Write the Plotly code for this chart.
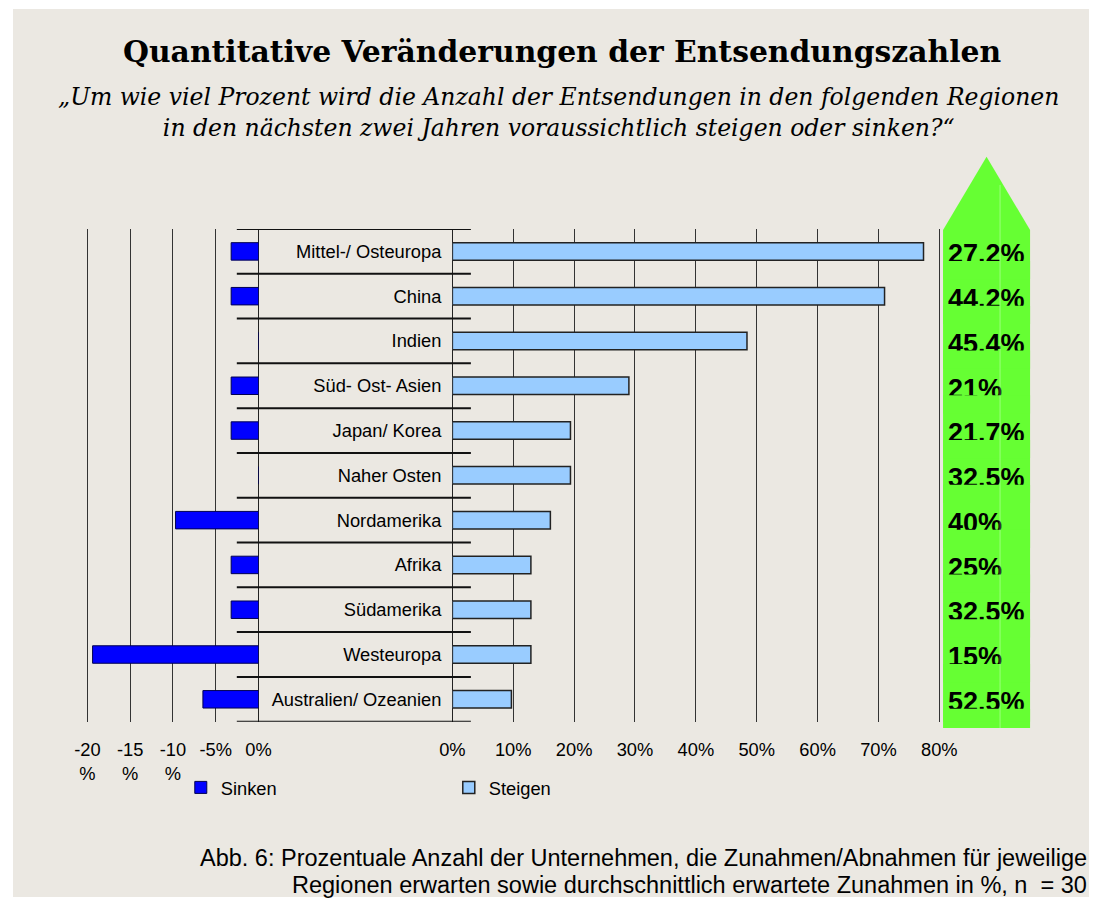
import plotly.graph_objects as go

W, H = 1106, 899

# ---------------- data ----------------
regions = ["Mittel-/ Osteuropa", "China", "Indien", "Süd- Ost- Asien", "Japan/ Korea",
           "Naher Osten", "Nordamerika", "Afrika", "Südamerika", "Westeuropa",
           "Australien/ Ozeanien"]
sinken = [-3.2, -3.2, 0.0, -3.2, -3.2, 0.0, -9.7, -3.2, -3.2, -19.4, -6.5]
steigen = [77.4, 71.0, 48.4, 29.0, 19.4, 19.4, 16.1, 12.9, 12.9, 12.9, 9.7]
avg_increase = ["27.2%", "44.2%", "45.4%", "21%", "21.7%", "32.5%", "40%",
                "25%", "32.5%", "15%", "52.5%"]

left_tickvals = [-20, -15, -10, -5, 0]
left_ticktext = ["-20<br>%", "-15<br>%", "-10<br>%", "-5%", "0%"]
right_tickvals = [0, 10, 20, 30, 40, 50, 60, 70, 80]
right_ticktext = ["0%", "10%", "20%", "30%", "40%", "50%", "60%", "70%", "80%"]

title = "Quantitative Veränderungen der Entsendungszahlen"
subtitle = ("„Um wie viel Prozent wird die Anzahl der Entsendungen in den folgenden Regionen<br>"
            "in den nächsten zwei Jahren voraussichtlich steigen oder sinken?“")
caption_lines = ["Abb. 6: Prozentuale Anzahl der Unternehmen, die Zunahmen/Abnahmen für jeweilige",
                 "Regionen erwarten sowie durchschnittlich erwartete Zunahmen in %, n  = 30"]

# ---------------- helpers ----------------
# horizontal calibration of the rendered page (picture x = OFF + SC * layout x)
OFF, SC = 12.27, 0.97255


def px(t):
    """target picture x (pixels) -> paper fraction"""
    return ((t - OFF) / SC) / W


def py(y):
    return 1 - y / H


PLOT_TOP, PLOT_BOT = 229.0, 721.7
n = len(regions)
row_px = (PLOT_BOT - PLOT_TOP) / n
idx = list(range(n))

SANS = "Liberation Sans, Arial, sans-serif"
SERIF = "DejaVu Serif, Georgia, serif"
BG = "#ebe8e2"
GREEN = "#66ff33"

# axis pixel anchors (picture coordinates)
L_M20, L_0 = 86.7, 257.7
R_0, R_80 = 451.5, 938.3
l_scale = (L_0 - L_M20) / 20.0
r_scale = (R_80 - R_0) / 80.0
PAD = 0.2

fig = go.Figure()

fig.add_trace(go.Bar(
    y=idx, x=sinken, orientation="h", name="Sinken",
    xaxis="x", yaxis="y", width=0.39,
    marker=dict(color="#0000ff", line=dict(color="#000050", width=1)),
))
fig.add_trace(go.Bar(
    y=idx, x=steigen, orientation="h", name="Steigen",
    xaxis="x2", yaxis="y", width=0.39,
    marker=dict(color="#99ccff", line=dict(color="#222222", width=1.5)),
))
label_shift = 5.0 / row_px
fig.add_trace(go.Scatter(
    x=[0] * n, y=[i + label_shift for i in idx], text=avg_increase,
    mode="text", textposition="middle right",
    textfont=dict(family=SANS, size=27, color="black", weight="bold"),
    xaxis="x3", yaxis="y", showlegend=False, hoverinfo="skip", cliponaxis=True,
))

shapes = []
# page background
shapes.append(dict(type="rect", xref="paper", yref="paper", x0=0, x1=1,
                   y0=py(897), y1=py(9), fillcolor=BG, line=dict(width=0), layer="below"))
# green arrow
ax0, ax1, atip = 942, 1029, 985.5
path = (f"M {px(ax0)},{py(728)} L {px(ax0)},{py(230)} L {px(atip)},{py(156.7)} "
        f"L {px(ax1)},{py(230)} L {px(ax1)},{py(728)} Z")
shapes.append(dict(type="path", xref="paper", yref="paper", path=path,
                   fillcolor=GREEN, line=dict(width=0), layer="below"))
# strips clipping the lower part of the arrow labels
for i in idx:
    shapes.append(dict(type="rect", xref="paper", yref="y", x0=px(ax0), x1=px(ax1),
                       y0=i + 9.5 / row_px, y1=min(i + 0.62, n - 0.5 + 6 / row_px),
                       fillcolor=GREEN, line=dict(width=0), layer="above"))
shapes.append(dict(type="line", xref="paper", yref="paper", x0=px(999), x1=px(999),
                   y0=py(728), y1=py(185), line=dict(color="rgba(255,255,255,0.35)", width=1),
                   layer="above"))
# category separator lines
for i in range(n + 1):
    shapes.append(dict(type="line", xref="paper", yref="y", x0=px(236), x1=px(470),
                       y0=i - 0.5, y1=i - 0.5, line=dict(color="#111111", width=2)))

annotations = [
    dict(text=f"<b>{title}</b>", x=px(561), y=py(52), xref="paper", yref="paper",
         showarrow=False, xanchor="center", yanchor="middle",
         font=dict(family=SERIF, size=29.8, color="black")),
    dict(text=f"<i>{subtitle}</i>", x=px(558), y=py(113), xref="paper", yref="paper",
         showarrow=False, xanchor="center", yanchor="middle", align="center",
         font=dict(family=SERIF, size=23.5, color="black")),
]
for k, line in enumerate(caption_lines):
    annotations.append(dict(text=line, x=px(1088), y=py(857.5 + 27 * k), xref="paper",
                            yref="paper", showarrow=False, xanchor="right",
                            yanchor="middle", font=dict(family=SANS, size=23.5, color="black")))

grid = dict(showgrid=True, gridcolor="#333333", gridwidth=1, zeroline=True,
            zerolinecolor="#222222", zerolinewidth=1, showline=False, ticks="",
            tickfont=dict(family=SANS, size=18.3, color="black"), ticklabelstandoff=15,
            fixedrange=True)

fig.update_layout(
    width=W, height=H, autosize=False,
    margin=dict(l=0, r=0, t=0, b=0, pad=0),
    paper_bgcolor="white", plot_bgcolor="rgba(0,0,0,0)",
    barmode="overlay", showlegend=True,
    xaxis=dict(domain=[px(L_M20 - PAD * l_scale), px(L_0)], range=[-20 - PAD, 0],
               anchor="y", tickvals=left_tickvals, ticktext=left_ticktext, **grid),
    xaxis2=dict(domain=[px(R_0), px(R_80 + PAD * r_scale)], range=[0, 80 + PAD],
                anchor="y", tickvals=right_tickvals, ticktext=right_ticktext, **grid),
    xaxis3=dict(domain=[px(ax0), px(ax1)], range=[-0.06, 1], anchor="y",
                visible=False, fixedrange=True),
    yaxis=dict(domain=[py(PLOT_BOT), py(PLOT_TOP)], range=[n - 0.5, -0.5], anchor="x2",
               tickvals=idx, ticktext=regions, showgrid=False, zeroline=False,
               ticks="", showline=False, ticklabelstandoff=10,
               tickfont=dict(family=SANS, size=18.3, color="black"), fixedrange=True),
    legend=dict(orientation="h", x=px(180), y=py(769), xanchor="left", yanchor="top",
                bgcolor="rgba(0,0,0,0)", font=dict(family=SANS, size=18.3, color="black"),
                entrywidth=223, entrywidthmode="pixels", itemclick=False,
                itemdoubleclick=False),
    shapes=shapes, annotations=annotations,
)

fig.write_html("out.html")
